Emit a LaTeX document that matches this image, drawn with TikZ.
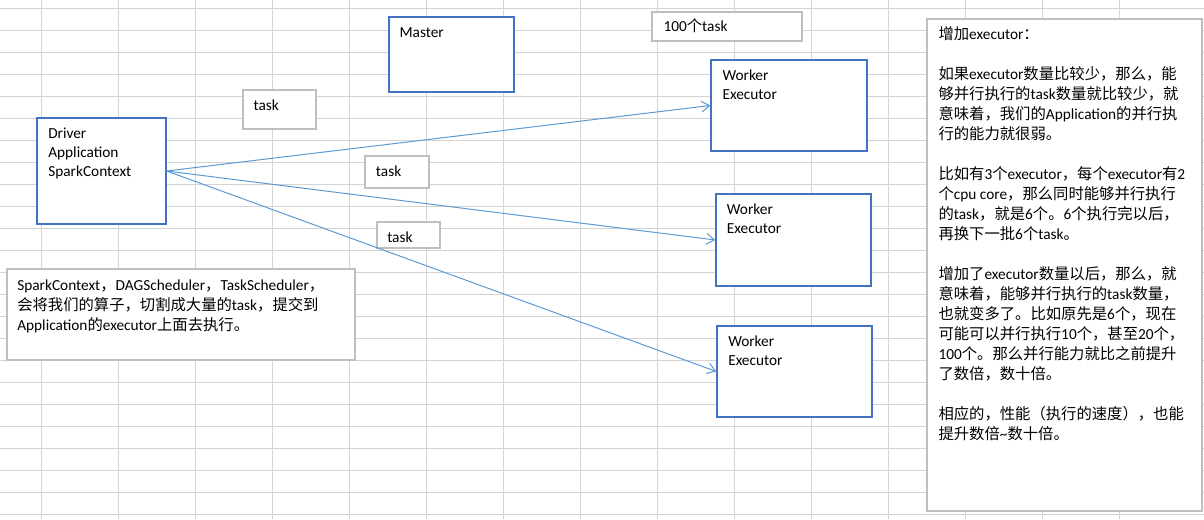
\documentclass[tikz,border=0pt]{standalone}
\usepackage{fontspec}
\setmainfont{Carlito}
\newfontfamily\cjk{Noto Sans CJK SC}
\newcommand\zh[1]{{\cjk #1}}
\usetikzlibrary{arrows.meta,fit}
\definecolor{gridc}{HTML}{D4D4D4}
\definecolor{boxblue}{HTML}{4472C4}
\definecolor{arrowblue}{HTML}{5B9BD5}
\definecolor{boxgray}{HTML}{BFBFBF}
\begin{document}
\begin{tikzpicture}[x=0.75pt,y=-0.75pt,
  bluebox/.style={draw=boxblue,line width=1pt,fill=white,inner sep=0pt},
  graybox/.style={draw=boxgray,line width=1pt,fill=white,inner sep=0pt},
  lbl/.style={inner sep=0pt,font=\fontsize{11.5}{14.4}\selectfont,align=left,anchor=north west},
  zhtxt/.style={inner sep=0pt,font=\fontsize{11.5}{15}\selectfont,align=left,anchor=north west},
  one/.style={inner sep=0pt,font=\fontsize{11.5}{14}\selectfont,anchor=base west},
  conn/.style={draw=arrowblue,line width=0.75pt,-{Straight Barb[length=6pt,width=8pt]}}
]
\useasboundingbox (0,0) rectangle (1204,519);
\fill[white] (0,0) rectangle (1204,519);
% spreadsheet grid
\foreach \i in {0,...,14} \draw[gridc,line width=0.75pt] ({41.7+77*\i},0) -- ({41.7+77*\i},519);
\foreach \j in {0,...,23} \draw[gridc,line width=0.75pt] (0,{8.3+22*\j}) -- (1204,{8.3+22*\j});

% boxes
\node[bluebox,fit={(37,118) (166,224)}] (driver) {};
\node[graybox,fit={(243,90) (316,129)}] (task1box) {};
\node[bluebox,fit={(389,17) (514,92)}] (master) {};
\node[graybox,fit={(365,156) (429,188)}] (task2box) {};
\node[graybox,fit={(377,222) (440,248)}] (task3box) {};
\node[graybox,fit={(652,12) (802,41)}] (hundred) {};
\node[bluebox,fit={(711,60) (867,151)}] (worker1) {};
\node[bluebox,fit={(716,194) (871,286)}] (worker2) {};
\node[bluebox,fit={(717,326) (872,417)}] (worker3) {};
\node[graybox,fit={(7,269) (355,360)}] (scnote) {};
\node[graybox,fit={(927,19) (1202,511)}] (notebox) {};

% texts
\node[lbl] (drivertxt) at (48,124.6) {\strut Driver\\\strut Application\\\strut SparkContext};
\node[one] (task1) at (253.3,110) {task};
\node[one] (mastertxt) at (399.3,37) {Master};
\node[one] (task2) at (375.7,176) {task};
\node[one] (task3) at (387,242) {task};
\node[one] (hundredtxt) at (663.3,31.7) {100\zh{个}task};
\node[lbl] (w1txt) at (722.3,66.6) {\strut Worker\\\strut Executor};
\node[lbl] (w2txt) at (726.7,200.6) {\strut Worker\\\strut Executor};
\node[lbl] (w3txt) at (728,332.6) {\strut Worker\\\strut Executor};
\node[zhtxt] (sctxt) at (17,276) {%
\strut SparkContext\zh{，}DAGScheduler\zh{，}TaskScheduler\zh{，}\\
\strut\zh{会将我们的算子，切割成大量的}task\zh{，提交到}\\
\strut Application\zh{的}executor\zh{上面去执行。}};
\node[zhtxt] (notes) at (938.3,25) {%
\strut\zh{增加}executor\zh{：}\\
\strut\\
\strut\zh{如果}executor\zh{数量比较少，那么，能}\\
\strut\zh{够并行执行的}task\zh{数量就比较少，就}\\
\strut\zh{意味着，我们的}Application\zh{的并行执}\\
\strut\zh{行的能力就很弱。}\\
\strut\\
\strut\zh{比如有}3\zh{个}executor\zh{，每个}executor\zh{有}2\\
\strut\zh{个}cpu core\zh{，那么同时能够并行执行}\\
\strut\zh{的}task\zh{，就是}6\zh{个。}6\zh{个执行完以后，}\\
\strut\zh{再换下一批}6\zh{个}task\zh{。}\\
\strut\\
\strut\zh{增加了}executor\zh{数量以后，那么，就}\\
\strut\zh{意味着，能够并行执行的}task\zh{数量，}\\
\strut\zh{也就变多了。比如原先是}6\zh{个，现在}\\
\strut\zh{可能可以并行执行}10\zh{个，甚至}20\zh{个，}\\
\strut 100\zh{个。那么并行能力就比之前提升}\\
\strut\zh{了数倍，数十倍。}\\
\strut\\
\strut\zh{相应的，性能（执行的速度），也能}\\
\strut\zh{提升数倍}\textasciitilde\zh{数十倍。}};

% connectors
\draw[conn] (driver.east) -- (worker1.west);
\draw[conn] (driver.east) -- (worker2.west);
\draw[conn] (driver.east) -- (worker3.west);
\end{tikzpicture}
\end{document}
